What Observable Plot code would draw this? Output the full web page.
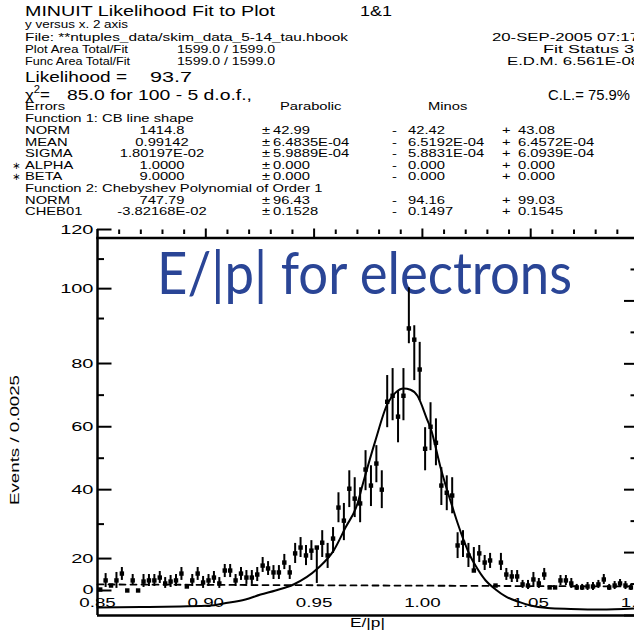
<!DOCTYPE html>
<html>
<head>
<meta charset="utf-8">
<script src="https://cdn.jsdelivr.net/npm/d3@7"></script>
<script src="https://cdn.jsdelivr.net/npm/@observablehq/plot@0.6"></script>
<style>
  html, body { margin: 0; padding: 0; background: #fff; overflow: hidden; }
  #chart { position: relative; width: 634px; height: 632px; overflow: hidden; background: #fff; }
  #chart svg { position: absolute; left: 0; top: 0; }
</style>
</head>
<body>
<div id="chart"></div>
<script>
// ---------- fit summary ----------
const fitTitle = "MINUIT Likelihood Fit to Plot";
const plotId = "1&1";
const fitDescription = "y versus x. 2 axis";
const fileName = "File: **ntuples_data/skim_data_5-14_tau.hbook";
const fitDate = "20-SEP-2005 07:17";
const plotArea = ["1599.0", "1599.0"];
const funcArea = ["1599.0", "1599.0"];
const fitStatus = 3;
const edm = "6.561E-08";
const likelihood = "93.7";
const chi2 = "85.0";
const nBins = 100;
const nFree = 5;
const confLevel = "75.9%";

const functionNames = ["Function  1: CB line shape", "Function  2: Chebyshev Polynomial of Order 1"];
const paramFunction = [0, 0, 0, 0, 0, 1, 1];
const paramNames = ["NORM", "MEAN", "SIGMA", "ALPHA", "BETA", "NORM", "CHEB01"];
const paramFixed = [false, false, false, true, true, false, false];
const paramValues = ["1414.8", "0.99142", "1.80197E-02", "1.0000", "9.0000", "747.79", "-3.82168E-02"];
const parabolicErr = ["42.99", "6.4835E-04", "5.9889E-04", "0.000", "0.000", "96.43", "0.1528"];
const minosMinus = ["42.42", "6.5192E-04", "5.8831E-04", "0.000", "0.000", "94.16", "0.1497"];
const minosPlus = ["43.08", "6.4572E-04", "6.0939E-04", "0.000", "0.000", "99.03", "0.1545"];

// ---------- histogram: 100 bins of E/|p| ----------
const binStart = 0.85;
const binWidth = 0.0025;
const counts = [
  0.6, 6.3, 3.1, 6.3, 10.6, 0, 6.3, 0, 5.6, 6.3,
  6.3, 8.1, 4.4, 5.6, 6.3, 10.6, 2.5, 6.3, 10.6, 5,
  6.3, 8.1, 4.4, 12.5, 12.5, 6.3, 10.6, 8.1, 8.1, 10,
  15.6, 13.8, 11.3, 11.3, 17.5, 11.3, 21.5, 23.2, 20.9, 22.3,
  23.2, 24.6, 20.9, 25.8, 34.8, 31, 40.3, 37.4, 36, 46.4,
  41.3, 48.3, 40, 67.9, 69.8, 63.2, 69.8, 87.8, 85.3, 78.1,
  53, 60, 54.9, 41.3, 39.1, 38.3, 23.8, 24.6, 20.9, 12.5,
  21.5, 17.5, 18.8, 3.1, 17.5, 10, 8.8, 8.8, 3.8, 3.1,
  6.9, 4.4, 10, 1.9, 1.9, 6.3, 6.3, 4.4, 1.9, 1.9,
  2.5, 2.5, 3.8, 6.9, 1.9, 3.1, 4.4, 3.1, 1.9, 2.5
];
const countsLow = [
  0.6, 1.9, 3.1, 1.3, 6.3, 0, 3.1, 0, 1.9, 2.5,
  2.5, 4.4, 1.3, 1.9, 2.5, 6.3, 2.5, 2.5, 6.3, 1.3,
  2.5, 4.4, 1.3, 8.1, 8.1, 2.5, 6.3, 3.8, 3.8, 5.6,
  11.3, 9.4, 6.9, 6.9, 13.1, 6.9, 16.9, 20.3, 15.6, 18.8,
  4.4, 20.3, 13.8, 21.5, 30.4, 25.2, 34.8, 31.9, 30.4, 39.7,
  35.1, 42.2, 34.5, 59.7, 61.9, 54.9, 61.9, 84.4, 74.6, 68.3,
  46, 52.4, 47.6, 35.4, 33.9, 33, 20, 20.3, 14.4, 12.5,
  17.5, 12.5, 13.8, 3.1, 12.5, 6.3, 5, 5, 1.3, 0.6,
  1.9, 1.3, 6.3, 1.9, 1.9, 3.1, 3.1, 1.3, 0, 0,
  0, 0, 1.3, 3.8, 0, 0.6, 1.9, 0.6, 0, 0
];
const countsHigh = [
  0.6, 10.6, 3.1, 11.3, 14.4, 0, 10, 0, 10, 10,
  10, 11.9, 8.1, 9.4, 10, 14.4, 2.5, 10, 14.4, 8.8,
  10, 11.9, 8.1, 16.3, 16.3, 10, 14.4, 12.5, 12.5, 14.4,
  20.3, 18.1, 15.6, 15.6, 21.2, 15.6, 24.4, 26.1, 23.8, 25.2,
  23.2, 28.1, 24.4, 29, 39.1, 36, 46, 43.8, 40.6, 52.4,
  47.6, 54, 46, 76.2, 78.4, 71.4, 78.4, 100.3, 88.4, 84.7,
  59.7, 67.6, 62.5, 47, 44.4, 43.8, 27.5, 28.1, 24.4, 23.2,
  23.8, 20.9, 21.5, 3.1, 21.5, 13.8, 12.5, 12.5, 6.3, 6.3,
  11.3, 7.5, 13.8, 1.9, 1.9, 9.4, 9.4, 7.5, 3.8, 3.8,
  5, 5, 6.3, 10, 3.8, 5.6, 6.9, 5.6, 3.8, 5
];

// fitted line shape (solid) and background polynomial (dashed)
const fitX = [0.85, 0.8699, 0.8883, 0.9022, 0.9082, 0.9183, 0.9253, 0.9322, 0.9405, 0.9516,
  0.959, 0.9645, 0.97, 0.9723, 0.9783, 0.9839, 0.9876, 0.9913, 0.9945, 0.9977,
  1.0024, 1.0037, 1.0084, 1.0144, 1.0162, 1.0222, 1.0245, 1.0292, 1.0338, 1.0384,
  1.0439, 1.0499, 1.0578, 1.0684, 1.0822, 1.0979];
const fitY = [-10.9, -10.6, -10.2, -9.6, -8.3, -5.8, -2.6, 0, 3.75, 13.75,
  22.3, 29, 35.9, 41.3, 55.6, 67.3, 70.8, 72.1, 71.7, 69.8,
  61.9, 59.7, 47, 33.9, 30.4, 20.6, 15.6, 6.25, 0.6, -3.8,
  -7, -9.6, -11.2, -11.8, -12.2, -11.5];
const bgX = [0.85, 1.10];
const bgY = [3.8, 2.5];

// ---------- axes ----------
const xTicks = [0.85, 0.90, 0.95, 1.00, 1.05, 1.10];
const xTopTicks = [0.90, 0.95, 1.00, 1.05];
const xMinorTicks = [0.86, 0.87, 0.88, 0.89, 0.91, 0.92, 0.93, 0.94, 0.96, 0.97,
  0.98, 0.99, 1.01, 1.02, 1.03, 1.04, 1.06, 1.07, 1.08, 1.09];
const yTicks = [0, 20, 40, 60, 80, 100, 120];
const yMinorTicks = [30, 50, 70, 90, 110];
// uniform graduation of the frame itself, marked along the right edge
const frameTicks = [0, 20, 40, 60, 80, 100, 120];
const frameMinorTicks = [10, 30, 50, 70, 90, 110];
const yFloor = -16;
// the event axis is graduated unevenly: each labelled value is placed at
// its height on the uniform 0-120 frame, linearly in between
const yKnots = [yFloor, 0, 20, 40, 60, 80, 90, 100, 120];
const yKnotHeights = [0, 7.95, 18.1, 40, 60, 80.1, 94.4, 103.9, 122.7];
const toFrame = d3.scaleLinear().domain(yKnots).range(yKnotHeights);

const bins = counts.map((c, i) => ({
  x: binStart + binWidth * (i + 0.5),
  y: c,
  lo: countsLow[i],
  hi: countsHigh[i]
}));
const fitLine = fitX.map((x, i) => ({x, y: fitY[i]}));
const bgLine = bgX.map((x, i) => ({x, y: bgY[i]}));

const FONT = "'Liberation Sans', Arial, Helvetica, sans-serif";
const chart = document.getElementById("chart");

// ---------- text block above the frame ----------
const header = d3.select(chart).append("svg")
  .attr("width", 634).attr("height", 632)
  .style("font-family", FONT);

function fit(t, len, stretch) {
  const w = len ?? (stretch ? t.node().getComputedTextLength() * stretch : null);
  if (w) t.attr("textLength", w).attr("lengthAdjust", "spacingAndGlyphs");
}

function put(x, y, str, {size = 11, anchor = "start", len, stretch, fill = "#000", rotate, family} = {}) {
  const t = header.append("text")
    .attr("x", x).attr("y", y)
    .attr("font-size", size)
    .attr("text-anchor", anchor)
    .attr("fill", fill)
    .text(str);
  if (family) t.attr("font-family", family);
  if (rotate) t.attr("transform", `rotate(${rotate} ${x} ${y})`);
  fit(t, len, stretch);
  return t;
}

const body = {size: 11, stretch: 1.34};
put(25, 15.5, fitTitle, {size: 14, len: 250});
put(360, 15.5, plotId, {size: 14, len: 32});
put(25, 28, fitDescription, {len: 103});
put(25, 40.5, fileName, {len: 323});
put(492, 40.5, fitDate, {len: 147});
put(25, 53, "Plot Area Total/Fit", {len: 103});
put(177, 53, `${plotArea[0]} / ${plotArea[1]}`, {len: 98});
put(543, 53, `Fit Status  ${fitStatus}`, {len: 91});
put(25, 65, "Func Area Total/Fit", {len: 105});
put(177, 65, `${funcArea[0]} / ${funcArea[1]}`, {len: 98});
put(507, 65, `E.D.M. ${edm}`, {len: 133});
put(25, 82, "Likelihood =", {size: 15, len: 102});
put(150, 82, likelihood, {size: 15, len: 42});

// chi-square symbol with its superscript, as one text
const chiText = header.append("text").attr("x", 25).attr("y", 99.5).attr("font-size", 15);
chiText.append("tspan").attr("font-size", 15).text("\u03c7");
chiText.append("tspan").attr("font-size", 10).attr("dy", -7).text("2");
chiText.append("tspan").attr("dy", 7).text("=");
fit(chiText, 25);

put(67, 99.5, `${chi2} for ${nBins} -  ${nFree} d.o.f.,`, {size: 15, len: 185});
put(548, 99.5, `C.L.= ${confLevel}`, {size: 15, len: 82});
put(25, 109.5, "Errors", body);
put(280, 109.5, "Parabolic", body);
put(428, 109.5, "Minos", body);

const rowY = k => 122.3 + 11.6 * k;
let row = 0;
functionNames.forEach((fn, f) => {
  put(25, rowY(row++), fn, body);
  paramNames.forEach((p, i) => {
    if (paramFunction[i] !== f) return;
    const y = rowY(row++);
    if (paramFixed[i]) put(12, y, "\u2217", {size: 10, family: "'DejaVu Sans', sans-serif"});
    put(25, y, p, body);
    put(162, y, paramValues[i], {...body, anchor: "middle"});
    put(262, y, "\u00b1", body);
    put(273, y, parabolicErr[i], body);
    put(392, y, "-", body);
    put(408, y, minosMinus[i], body);
    put(502, y, "+", body);
    put(518, y, minosPlus[i], body);
  });
});

put(157, 294, "E/|p| for electrons", {size: 58, len: 415, fill: "#2a4596", family: "Lato, 'Open Sans', sans-serif"});
put(350, 627, "E/|p|", {size: 13, len: 35});
put(19, 440, "Events / 0.0025", {size: 13, len: 130, anchor: "middle", rotate: -90});

// ---------- the histogram frame ----------
// axis ticks are given in frame heights, so the uneven graduation is mapped explicitly
const leftTicks = yTicks.map(toFrame);
const leftMinor = yMinorTicks.map(toFrame);
const leftLabel = d => String(Math.round(toFrame.invert(d)));
const blank = () => "";

const plot = Plot.plot({
  width: 634,
  height: 632,
  marginTop: 237.5,
  marginLeft: 97,
  marginRight: 0,
  marginBottom: 17,
  style: {background: "transparent", overflow: "hidden", fontFamily: FONT, color: "#000"},
  x: {domain: [0.85, 1.10], range: [97, 638.5]},
  y: {domain: [0, 120], transform: toFrame},
  marks: [
    // value labels sit just inside the lower edge
    Plot.text(xTicks, {x: d => d, frameAnchor: "bottom", dy: -9, text: d => d3.format(".2f")(d), fontSize: 12.5, fill: "#000"}),
    Plot.axisY({anchor: "left", ticks: leftTicks, tickSize: 0, tickPadding: 4, fontSize: 12.5, tickFormat: leftLabel, label: null}),
    // inward ticks on the left axis
    Plot.axisY({anchor: "left", ticks: leftTicks, tickSize: 14.5, insetLeft: 14.5, strokeWidth: 2, tickFormat: blank, label: null}),
    Plot.axisY({anchor: "left", ticks: leftMinor, tickSize: 7, insetLeft: 7, strokeWidth: 2, tickFormat: blank, label: null}),
    // inward ticks on the right axis
    Plot.axisY({anchor: "right", ticks: frameTicks, tickSize: 15, insetRight: 11, strokeWidth: 2, tickFormat: blank, label: null}),
    Plot.axisY({anchor: "right", ticks: frameMinorTicks, tickSize: 8.5, insetRight: 4.5, strokeWidth: 2, tickFormat: blank, label: null}),
    // ticks along the top edge
    Plot.axisX({anchor: "top", ticks: xTopTicks, tickSize: 10, strokeWidth: 2, tickFormat: blank, label: null}),
    Plot.axisX({anchor: "top", ticks: xMinorTicks, tickSize: 4.5, insetTop: -4.5, strokeWidth: 2, tickFormat: blank, label: null}),
    Plot.frame({anchor: "top", strokeWidth: 2.5}),
    Plot.ruleX([binStart], {y1: yFloor, y2: 120, strokeWidth: 2.5}),
    Plot.ruleY([yFloor], {strokeWidth: 2.5}),
    Plot.line(bgLine, {x: "x", y: "y", stroke: "#000", strokeWidth: 1.8, strokeDasharray: "6,5"}),
    Plot.line(fitLine, {x: "x", y: "y", stroke: "#000", strokeWidth: 2, curve: "monotone-x"}),
    Plot.ruleX(bins, {x: "x", y1: "lo", y2: "hi", stroke: "#000", strokeWidth: 2}),
    Plot.dot(bins, {x: "x", y: "y", symbol: "square", r: 2.5, fill: "#000", stroke: "none"})
  ]
});
chart.appendChild(plot);

// wide lettering for the tick labels
function widen(node, factor) {
  const w = node.getComputedTextLength();
  if (w > 0) {
    node.setAttribute("textLength", w * factor);
    node.setAttribute("lengthAdjust", "spacingAndGlyphs");
  }
}
d3.select(plot).selectAll('g[aria-label="y-axis tick label"] text').each(function() { widen(this, 1.6); });
d3.select(plot).selectAll('g[aria-label="text"] text').each(function() { widen(this, 1.5); });
</script>
</body>
</html>
